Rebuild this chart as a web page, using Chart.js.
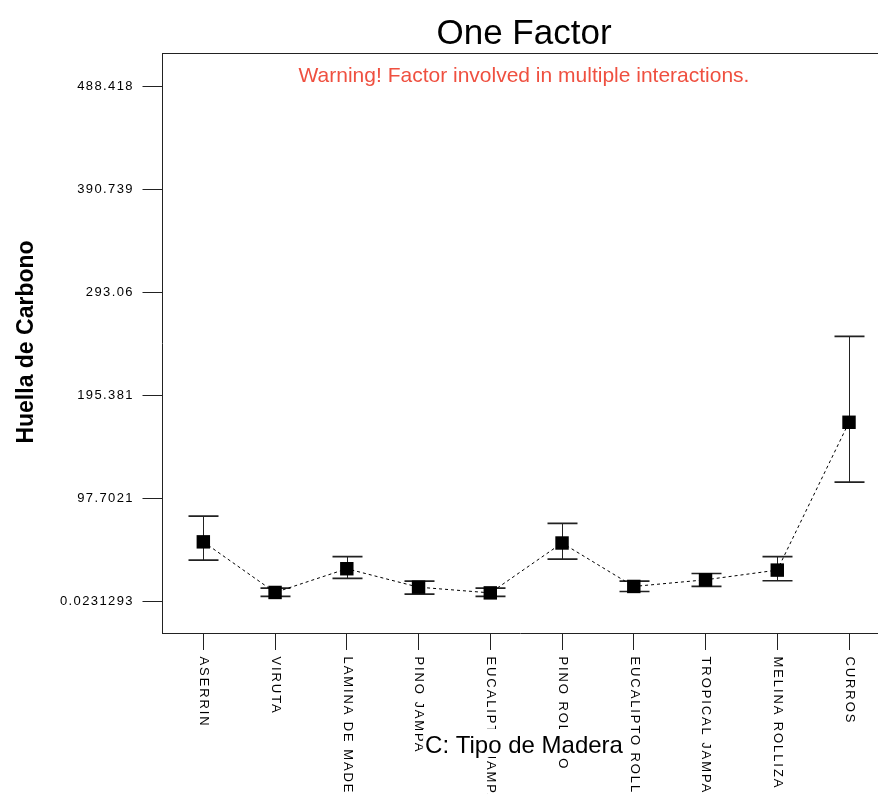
<!DOCTYPE html>
<html>
<head>
<meta charset="utf-8">
<script src="https://cdn.jsdelivr.net/npm/chart.js@4.4.1/dist/chart.umd.min.js"></script>
<style>
  html, body { margin: 0; padding: 0; background: #fff; overflow: hidden; }
  canvas { display: block; }
</style>
</head>
<body>
<canvas id="chart" width="878" height="794"></canvas>
<script>
// Wood types on the x axis
const categories = [
  'ASERRIN', 'VIRUTA', 'LAMINA DE MADERA', 'PINO JAMPA', 'EUCALIPTO JAMPA',
  'PINO ROLLIZO', 'EUCALIPTO ROLLIZO', 'TROPICAL JAMPA', 'MELINA ROLLIZA', 'CURROS'
];
// Predicted carbon footprint per wood type, with interval limits
const meanValues  = [56.6, 8.6, 31.1, 13.6, 8.2, 55.5, 14.3, 20.6, 29.8, 170.0];
const upperValues = [80.9, 12.7, 42.5, 19.3, 12.7, 74.2, 19.3, 26.6, 42.5, 251.4];
const lowerValues = [39.3, 4.8, 21.9, 7.0, 4.8, 40.3, 9.5, 14.3, 19.7, 113.3];
// Y axis ticks
const yTickValues = [0.0231293, 97.7021, 195.381, 293.06, 390.739, 488.418];
const yTickLabels = ['0.0231293', '97.7021', '195.381', '293.06', '390.739', '488.418'];

const FONT = "'Liberation Sans', Arial, Helvetica, sans-serif";
const INK = '#222';

const decorations = {
  id: 'decorations',
  beforeDraw(chart) {
    const ctx = chart.ctx;
    ctx.save();
    ctx.fillStyle = '#fff';
    ctx.fillRect(0, 0, chart.width, chart.height);
    ctx.restore();
    // wide-set tick lettering
    ctx.letterSpacing = '1.4px';
  },
  beforeDatasetsDraw(chart) {
    const ctx = chart.ctx;
    ctx.letterSpacing = '0px';
    const x = chart.scales.x, y = chart.scales.y;
    ctx.save();
    ctx.strokeStyle = INK;
    categories.forEach((c, i) => {
      const px = Math.round(x.getPixelForValue(i)) + 0.5;
      const yt = y.getPixelForValue(upperValues[i]);
      const yb = y.getPixelForValue(lowerValues[i]);
      ctx.lineWidth = 1;
      ctx.beginPath();
      ctx.moveTo(px, yt);
      ctx.lineTo(px, yb);
      ctx.stroke();
      ctx.lineWidth = 1.7;
      ctx.beginPath();
      ctx.moveTo(px - 15, yt); ctx.lineTo(px + 15, yt);
      ctx.moveTo(px - 15, yb); ctx.lineTo(px + 15, yb);
      ctx.stroke();
    });
    ctx.restore();
  },
  afterDraw(chart) {
    const ctx = chart.ctx;
    const area = chart.chartArea;
    const x = chart.scales.x;
    const cx = (area.left + area.right) / 2 + 4;
    ctx.save();
    ctx.letterSpacing = '0px';

    // top frame line
    ctx.strokeStyle = INK;
    ctx.lineWidth = 1;
    ctx.beginPath();
    ctx.moveTo(area.left, Math.round(area.top) + 0.5);
    ctx.lineTo(area.right, Math.round(area.top) + 0.5);
    ctx.stroke();

    // title and warning
    ctx.textAlign = 'center';
    ctx.textBaseline = 'alphabetic';
    ctx.fillStyle = '#000';
    ctx.font = `35px ${FONT}`;
    ctx.fillText('One Factor', cx, 43.5);
    ctx.fillStyle = '#ef5040';
    ctx.font = `21px ${FONT}`;
    ctx.fillText('Warning! Factor involved in multiple interactions.', cx, 81.5);

    // category labels, reading downward
    ctx.fillStyle = '#000';
    ctx.font = `13px ${FONT}`;
    ctx.letterSpacing = '1.9px';
    ctx.textAlign = 'left';
    ctx.textBaseline = 'middle';
    categories.forEach((c, i) => {
      ctx.save();
      ctx.translate(x.getPixelForValue(i) + 0.5, x.top + 23.5);
      ctx.rotate(Math.PI / 2);
      ctx.fillText(c, 0, 0);
      ctx.restore();
    });
    ctx.letterSpacing = '0px';

    // x axis title on a white patch
    ctx.font = `24px ${FONT}`;
    const xt = 'C: Tipo de Madera';
    const w = ctx.measureText(xt).width;
    ctx.fillStyle = '#fff';
    ctx.fillRect(cx - w / 2 - 2, 729, w + 4, 28);
    ctx.fillStyle = '#000';
    ctx.textAlign = 'center';
    ctx.textBaseline = 'alphabetic';
    ctx.fillText(xt, cx, 753);

    // y axis title
    ctx.save();
    ctx.translate(33, 342);
    ctx.rotate(-Math.PI / 2);
    ctx.font = `bold 23px ${FONT}`;
    ctx.fillText('Huella de Carbono', 0, 0);
    ctx.restore();

    ctx.restore();
  }
};

new Chart(document.getElementById('chart'), {
  type: 'line',
  data: {
    datasets: [{
      data: categories.map((c, i) => ({ x: i, y: meanValues[i] })),
      borderColor: '#000',
      borderWidth: 1,
      borderDash: [3, 3],
      tension: 0,
      fill: false,
      pointStyle: 'rect',
      pointRadius: 9.5,
      pointHoverRadius: 9.5,
      pointBackgroundColor: '#000',
      pointBorderWidth: 0
    }]
  },
  options: {
    responsive: false,
    animation: false,
    devicePixelRatio: 1,
    events: [],
    layout: { autoPadding: false, padding: { top: 53, left: 0, right: 0, bottom: 0 } },
    plugins: {
      legend: { display: false },
      tooltip: { enabled: false },
      title: { display: false }
    },
    scales: {
      x: {
        type: 'linear',
        position: 'bottom',
        min: -0.576,
        max: 9.404,
        afterBuildTicks: s => { s.ticks = categories.map((c, i) => ({ value: i })); },
        afterFit: s => { s.height = 161; },
        ticks: { display: false },
        grid: { drawOnChartArea: false, drawTicks: true, tickLength: 17, color: INK, lineWidth: 1 },
        border: { display: true, color: INK, width: 1 }
      },
      y: {
        type: 'linear',
        position: 'left',
        min: -29.85,
        max: 520.2,
        afterBuildTicks: s => { s.ticks = yTickValues.map(v => ({ value: v })); },
        afterFit: s => { s.width = 162; },
        ticks: {
          autoSkip: false,
          callback: (v, i) => yTickLabels[i],
          color: '#000',
          font: { family: FONT, size: 13 },
          padding: 8.5
        },
        grid: { drawOnChartArea: false, drawTicks: true, tickLength: 19.5, color: INK, lineWidth: 1 },
        border: { display: true, color: INK, width: 1 }
      }
    }
  },
  plugins: [decorations]
});
</script>
</body>
</html>
